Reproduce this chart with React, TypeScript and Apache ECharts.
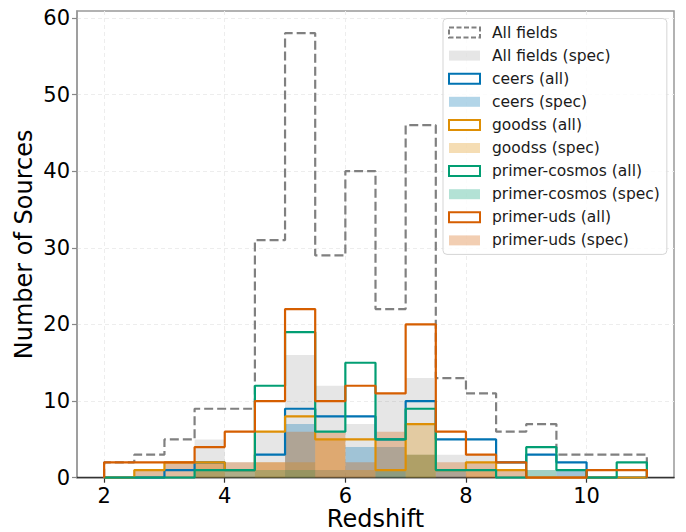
import React, { useEffect, useRef } from "react";
import * as echarts from "echarts";

// Histogram bin edges (redshift)
const binEdges = [2, 2.5, 3, 3.5, 4, 4.5, 5, 5.5, 6, 6.5, 7, 7.5, 8, 8.5, 9, 9.5, 10, 10.5, 11];

// Counts per bin (18 bins)
const allFieldsAll = [2, 3, 5, 9, 9, 31, 58, 29, 40, 22, 46, 13, 11, 6, 7, 3, 3, 3];
const allFieldsSpec = [0, 1, 2, 5, 2, 6, 16, 12, 7, 11, 13, 3, 3, 1, 1, 1, 0, 0];
const ceersAll = [0, 0, 1, 2, 1, 3, 9, 8, 8, 5, 10, 5, 5, 2, 3, 2, 0, 0];
const ceersSpec = [0, 0, 0, 0, 0, 0, 7, 1, 4, 4, 0, 1, 0, 0, 0, 1, 0, 0];
const goodssAll = [0, 1, 2, 2, 1, 6, 8, 5, 5, 1, 7, 1, 2, 1, 0, 0, 0, 0];
const goodssSpec = [0, 0, 0, 2, 0, 2, 2, 5, 1, 0, 7, 0, 1, 0, 0, 0, 0, 0];
const cosmosAll = [0, 0, 0, 1, 1, 12, 19, 6, 15, 5, 9, 1, 1, 0, 4, 1, 0, 2];
const cosmosSpec = [0, 0, 0, 1, 1, 1, 1, 0, 0, 1, 3, 0, 0, 0, 1, 0, 0, 0];
const udsAll = [2, 2, 2, 4, 6, 10, 22, 10, 12, 11, 20, 6, 3, 2, 0, 0, 1, 1];
const udsSpec = [0, 1, 2, 2, 2, 2, 6, 6, 2, 6, 3, 2, 2, 1, 0, 0, 0, 0];

const xTicks = [2, 4, 6, 8, 10];
const yTicks = [0, 10, 20, 30, 40, 50, 60];

const FONT = "DejaVu Sans";

function stepPoints(values: number[]) {
  const pts: number[][] = [[binEdges[0], 0]];
  values.forEach((v, i) => pts.push([binEdges[i], v]));
  pts.push([binEdges[binEdges.length - 1], 0]);
  return pts;
}

function outline(name: string, values: number[], color: string, dashed = false) {
  return {
    name,
    type: "line",
    step: "end",
    symbol: "none",
    silent: true,
    data: stepPoints(values),
    lineStyle: { color, width: 2.2, type: dashed ? [9, 4] : "solid" },
    itemStyle: { color },
  };
}

function filled(name: string, values: number[], fill: string) {
  return {
    name,
    type: "line",
    step: "end",
    symbol: "none",
    silent: true,
    data: stepPoints(values),
    lineStyle: { width: 0, color: fill },
    areaStyle: { color: fill, opacity: 1 },
    itemStyle: { color: fill },
  };
}

const C_CEERS = "#0173b2";
const C_GOODSS = "#de8f05";
const C_COSMOS = "#029e73";
const C_UDS = "#d55e00";
const F_ALL = "rgba(128,128,128,0.2)";
const F_CEERS = "rgba(1,115,178,0.3)";
const F_GOODSS = "rgba(222,143,5,0.3)";
const F_COSMOS = "rgba(2,158,115,0.3)";
const F_UDS = "rgba(213,94,0,0.3)";

function outlineLegend(name: string, color: string, dashed = false) {
  return {
    name,
    icon: "rect",
    itemStyle: {
      color: "#ffffff",
      borderColor: color,
      borderWidth: 2,
      borderType: dashed ? [5, 2.5] : "solid",
    },
  };
}
function fillLegend(name: string, fill: string) {
  return {
    name,
    icon: "rect",
    itemStyle: { color: fill, borderWidth: 0 },
  };
}

export default function App() {
  const ref = useRef<HTMLDivElement>(null);
  useEffect(() => {
    document.body.style.margin = "0";
    if (!ref.current) return;
    const chart = echarts.init(ref.current, null, { renderer: "svg" });
    const option: any = {
      animation: false,
      backgroundColor: "#ffffff",
      textStyle: { fontFamily: FONT },
      grid: {
        left: 77,
        right: 12,
        top: 11,
        bottom: 54.3,
        show: true,
        borderColor: "#999999",
        borderWidth: 1.5,
        outerBoundsMode: "none",
      },
      legend: {
        orient: "vertical",
        left: 443,
        top: 18.5,
        padding: [6, 7, 6, 5],
        itemWidth: 31,
        itemHeight: 10,
        itemGap: 7.1,
        backgroundColor: "rgba(255,255,255,0.8)",
        borderColor: "#d5d5d5",
        borderWidth: 1,
        borderRadius: 4,
        selectedMode: false,
        textStyle: {
          fontFamily: FONT,
          fontSize: 15.5,
          color: "#1a1a1a",
          lineHeight: 16,
          padding: [0, 0, 0, 7],
        },
        data: [
          outlineLegend("All fields", "#808080", true),
          fillLegend("All fields (spec)", F_ALL),
          outlineLegend("ceers (all)", C_CEERS),
          fillLegend("ceers (spec)", F_CEERS),
          outlineLegend("goodss (all)", C_GOODSS),
          fillLegend("goodss (spec)", F_GOODSS),
          outlineLegend("primer-cosmos (all)", C_COSMOS),
          fillLegend("primer-cosmos (spec)", F_COSMOS),
          outlineLegend("primer-uds (all)", C_UDS),
          fillLegend("primer-uds (spec)", F_UDS),
        ],
      },
      xAxis: {
        type: "value",
        min: 1.55,
        max: 11.45,
        name: "Redshift",
        nameLocation: "middle",
        nameGap: 29,
        nameMoveOverlap: false,
        nameTextStyle: {
          fontFamily: FONT,
          fontSize: 24,
          lineHeight: 24,
          color: "#000",
          verticalAlign: "top",
        },
        axisLine: { show: true, onZero: false, lineStyle: { color: "#333333", width: 1.3 } },
        axisTick: {
          show: true,
          length: 5,
          customValues: xTicks,
          lineStyle: { color: "#333333", width: 1.2 },
        },
        axisLabel: {
          customValues: xTicks,
          margin: 8,
          fontFamily: FONT,
          fontSize: 21,
          lineHeight: 20,
          color: "#000",
        },
        splitLine: {
          show: true,
          lineStyle: { color: "#ededed", width: 1, type: [4, 3] },
        },
      },
      yAxis: {
        type: "value",
        min: 0,
        max: 60.9,
        interval: 10,
        name: "Number of Sources",
        nameLocation: "middle",
        nameGap: 41,
        nameMoveOverlap: false,
        nameTextStyle: { fontFamily: FONT, fontSize: 24, color: "#000" },
        axisLine: { show: true, lineStyle: { color: "#999999", width: 1.5 } },
        axisTick: {
          show: true,
          length: 5,
          customValues: yTicks,
          lineStyle: { color: "#888888", width: 1.2 },
        },
        axisLabel: {
          customValues: yTicks,
          margin: 7,
          fontFamily: FONT,
          fontSize: 21,
          color: "#000",
        },
        splitLine: {
          show: true,
          lineStyle: { color: "#ededed", width: 1, type: [4, 3] },
        },
      },
      series: [
        outline("All fields", allFieldsAll, "#808080", true),
        filled("All fields (spec)", allFieldsSpec, F_ALL),
        outline("ceers (all)", ceersAll, C_CEERS),
        filled("ceers (spec)", ceersSpec, F_CEERS),
        outline("goodss (all)", goodssAll, C_GOODSS),
        filled("goodss (spec)", goodssSpec, F_GOODSS),
        outline("primer-cosmos (all)", cosmosAll, C_COSMOS),
        filled("primer-cosmos (spec)", cosmosSpec, F_COSMOS),
        outline("primer-uds (all)", udsAll, C_UDS),
        filled("primer-uds (spec)", udsSpec, F_UDS),
      ],
    };
    chart.setOption(option);
    return () => chart.dispose();
  }, []);
  return <div ref={ref} style={{ width: 686, height: 532 }} />;
}
